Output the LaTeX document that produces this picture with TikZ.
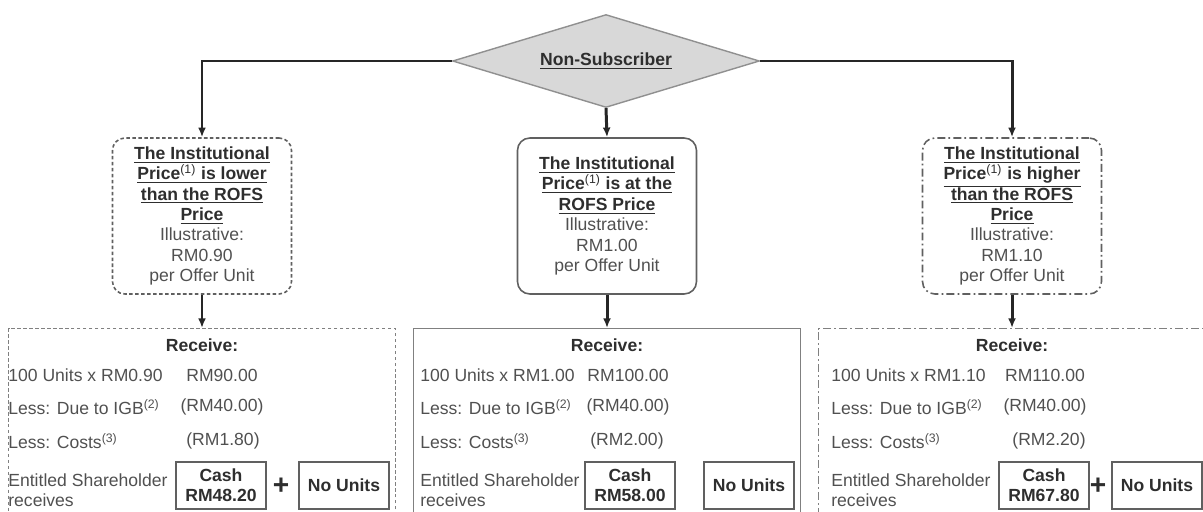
\documentclass[tikz,border=0pt]{standalone}
\usepackage{fontspec}
\setmainfont{Liberation Sans}
\usetikzlibrary{arrows.meta,positioning,shapes.geometric}
\definecolor{inkgray}{HTML}{2E2E2E}
\definecolor{textgray}{HTML}{505050}
\definecolor{edgegray}{HTML}{606060}
\definecolor{decisionfill}{HTML}{D8D8D8}
\newcommand{\ulhead}[1]{{\color{inkgray}\bfseries\underline{#1}}}
\newcommand{\supnote}[1]{\textsuperscript{\mdseries(#1)}}
\begin{document}
\begin{tikzpicture}[
  x=0.02cm, y=-0.02cm,
  font=\fontsize{10}{11.6}\selectfont,
  text=textgray,
  decision/.style={diamond, shape aspect=3.3, draw=edgegray!70, fill=decisionfill, line width=0.8pt, minimum width=6.14cm, minimum height=1.86cm, inner sep=0pt},
  casebox/.style={draw=edgegray, line width=0.9pt, rounded corners=7pt, align=center, minimum width=3.58cm, minimum height=3.12cm, inner sep=0pt},
  recvbox/.style={draw=edgegray!80, line width=0.7pt, minimum width=7.74cm, minimum height=4.6cm, anchor=north, inner sep=0pt},
  paybox/.style={draw=edgegray, line width=0.8pt, align=center, minimum width=1.8cm, minimum height=0.94cm, inner sep=0pt, font=\fontsize{10}{11.6}\selectfont\bfseries, text=inkgray},
  rowlabel/.style={anchor=west, inner sep=0pt, align=left},
  rowvalue/.style={inner sep=0pt},
  lowline/.style={dash pattern=on 2pt off 1.4pt},
  highline/.style={dash pattern=on 4.5pt off 1.8pt on 1pt off 1.8pt},
  flow/.style={-{Latex[length=5.5pt,width=4.5pt]}, line width=1.7pt, draw=black!85}
]
\useasboundingbox (0,0) rectangle (1203,511);
\clip (0,0) rectangle (1203,511);

% decision
\node[decision] (nonsub) at (606,61) {\ulhead{Non-Subscriber}};

% three price cases
\node[casebox, lowline] (lowcase) at (202,216) {\ulhead{The Institutional}\\ \ulhead{Price\supnote{1} is lower}\\ \ulhead{than the ROFS}\\ \ulhead{Price}\\ Illustrative:\\ RM0.90\\ per Offer Unit};
\node[casebox] (atcase) at (607,216) {\ulhead{The Institutional}\\ \ulhead{Price\supnote{1} is at the}\\ \ulhead{ROFS Price}\\ Illustrative:\\ RM1.00\\ per Offer Unit};
\node[casebox, highline] (highcase) at (1012,216) {\ulhead{The Institutional}\\ \ulhead{Price\supnote{1} is higher}\\ \ulhead{than the ROFS}\\ \ulhead{Price}\\ Illustrative:\\ RM1.10\\ per Offer Unit};

% receive panels
\node[recvbox, lowline] (lowrecv) at (202,328) {};
\node[recvbox] (atrecv) at (607,328) {};
\node[recvbox, highline] (highrecv) at (1012,328) {};

\draw[flow] (nonsub.west) -| (lowcase.north);
\draw[flow] (nonsub.south) -- (atcase.north);
\draw[flow] (nonsub.east) -| (highcase.north);
\draw[flow] (lowcase.south) -- (lowrecv.north);
\draw[flow] (atcase.south) -- (atrecv.north);
\draw[flow] (highcase.south) -- (highrecv.north);

% lower price panel
\node[font=\fontsize{10}{11.6}\selectfont\bfseries, text=inkgray] (lowhead) at (202,345) {Receive:};
\node[rowlabel] (lowunits) at (8,375) {100 Units x RM0.90};
\node[rowvalue] (lowgross) at (222,375) {RM90.00};
\node[rowlabel] (lowigb) at (8,407) {Less: Due to IGB\supnote{2}};
\node[rowvalue] (lowigbval) at (222,407) {(RM40.00)};
\node[rowlabel] (lowcost) at (8,441) {Less: Costs\supnote{3}};
\node[rowvalue] (lowcostval) at (223,441) {(RM1.80)};
\node[rowlabel] (lowent) at (8,490) {Entitled Shareholder\\receives};
\node[paybox] (lowcash) at (221,485.5) {Cash\\RM48.20};
\node[font=\fontsize{16}{16}\selectfont\bfseries, text=inkgray, inner sep=0pt] (lowplus) at (281,486) {+};
\node[paybox] (lowunit) at (344,485.5) {No Units};

% at price panel
\node[font=\fontsize{10}{11.6}\selectfont\bfseries, text=inkgray] (athead) at (607,345) {Receive:};
\node[rowlabel] (atunits) at (420,375) {100 Units x RM1.00};
\node[rowvalue] (atgross) at (628,375) {RM100.00};
\node[rowlabel] (atigb) at (420,407) {Less: Due to IGB\supnote{2}};
\node[rowvalue] (atigbval) at (628,407) {(RM40.00)};
\node[rowlabel] (atcost) at (420,441) {Less: Costs\supnote{3}};
\node[rowvalue] (atcostval) at (627,441) {(RM2.00)};
\node[rowlabel] (atent) at (420,490) {Entitled Shareholder\\receives};
\node[paybox] (atcash) at (630,485.5) {Cash\\RM58.00};
\node[paybox] (atunit) at (749,485.5) {No Units};

% higher price panel
\node[font=\fontsize{10}{11.6}\selectfont\bfseries, text=inkgray] (highhead) at (1012,345) {Receive:};
\node[rowlabel] (highunits) at (831,375) {100 Units x RM1.10};
\node[rowvalue] (highgross) at (1045,375) {RM110.00};
\node[rowlabel] (highigb) at (831,407) {Less: Due to IGB\supnote{2}};
\node[rowvalue] (highigbval) at (1045,407) {(RM40.00)};
\node[rowlabel] (highcost) at (831,441) {Less: Costs\supnote{3}};
\node[rowvalue] (highcostval) at (1049,441) {(RM2.20)};
\node[rowlabel] (highent) at (831,490) {Entitled Shareholder\\receives};
\node[paybox] (highcash) at (1044,485.5) {Cash\\RM67.80};
\node[font=\fontsize{16}{16}\selectfont\bfseries, text=inkgray, inner sep=0pt] (highplus) at (1098,486) {+};
\node[paybox] (highunit) at (1157,485.5) {No Units};
\end{tikzpicture}
\end{document}
